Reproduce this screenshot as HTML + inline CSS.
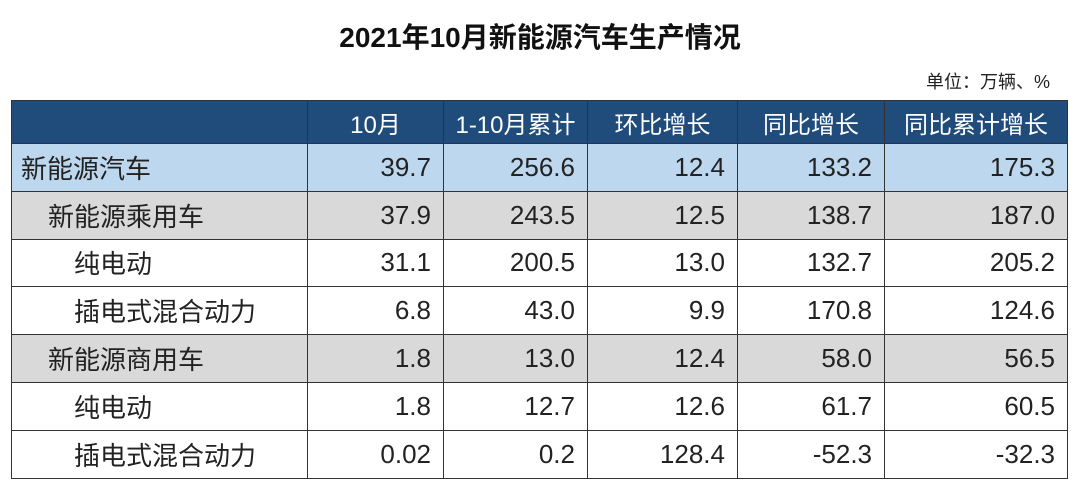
<!DOCTYPE html>
<html><head><meta charset="utf-8"><style>
body{margin:0;width:1080px;height:484px;background:#fff;overflow:hidden;font-family:"Liberation Sans","Noto Sans CJK SC",sans-serif;position:relative;color:#222}
.t{position:absolute;left:0;width:1080px;top:16px;text-align:center;font-size:28px;font-weight:bold;color:#111}
.u{position:absolute;right:30px;top:68px;font-size:18px;color:#222}
table{position:absolute;left:11px;top:100px;border-collapse:collapse;table-layout:fixed;width:1056px}
td{border:1.5px solid #333;height:47.8px;padding:0 12px 0 0;text-align:right;font-size:26px;white-space:nowrap;box-sizing:border-box}
tr.h td{background:#1f4c7a;color:#fff;text-align:center;padding:0;font-size:24px;height:43px}
td.n{text-align:left;padding-left:9px}
td.n2{text-align:left;padding-left:36px}
td.n3{text-align:left;padding-left:62px}
tr.b td{background:#bdd7ee}
tr.g td{background:#d9d9d9}
</style></head><body>
<div class="t">2021年10月新能源汽车生产情况</div>
<div class="u">单位：万辆、%</div>
<table>
<colgroup><col style="width:296px"><col style="width:136px"><col style="width:144px"><col style="width:150px"><col style="width:147px"><col style="width:183px"></colgroup>
<tr class="h"><td></td><td>10月</td><td>1-10月累计</td><td>环比增长</td><td>同比增长</td><td>同比累计增长</td></tr>
<tr class="b"><td class="n">新能源汽车</td><td>39.7</td><td>256.6</td><td>12.4</td><td>133.2</td><td>175.3</td></tr>
<tr class="g"><td class="n2">新能源乘用车</td><td>37.9</td><td>243.5</td><td>12.5</td><td>138.7</td><td>187.0</td></tr>
<tr><td class="n3">纯电动</td><td>31.1</td><td>200.5</td><td>13.0</td><td>132.7</td><td>205.2</td></tr>
<tr><td class="n3">插电式混合动力</td><td>6.8</td><td>43.0</td><td>9.9</td><td>170.8</td><td>124.6</td></tr>
<tr class="g"><td class="n2">新能源商用车</td><td>1.8</td><td>13.0</td><td>12.4</td><td>58.0</td><td>56.5</td></tr>
<tr><td class="n3">纯电动</td><td>1.8</td><td>12.7</td><td>12.6</td><td>61.7</td><td>60.5</td></tr>
<tr><td class="n3">插电式混合动力</td><td>0.02</td><td>0.2</td><td>128.4</td><td>-52.3</td><td>-32.3</td></tr>
</table>
</body></html>
